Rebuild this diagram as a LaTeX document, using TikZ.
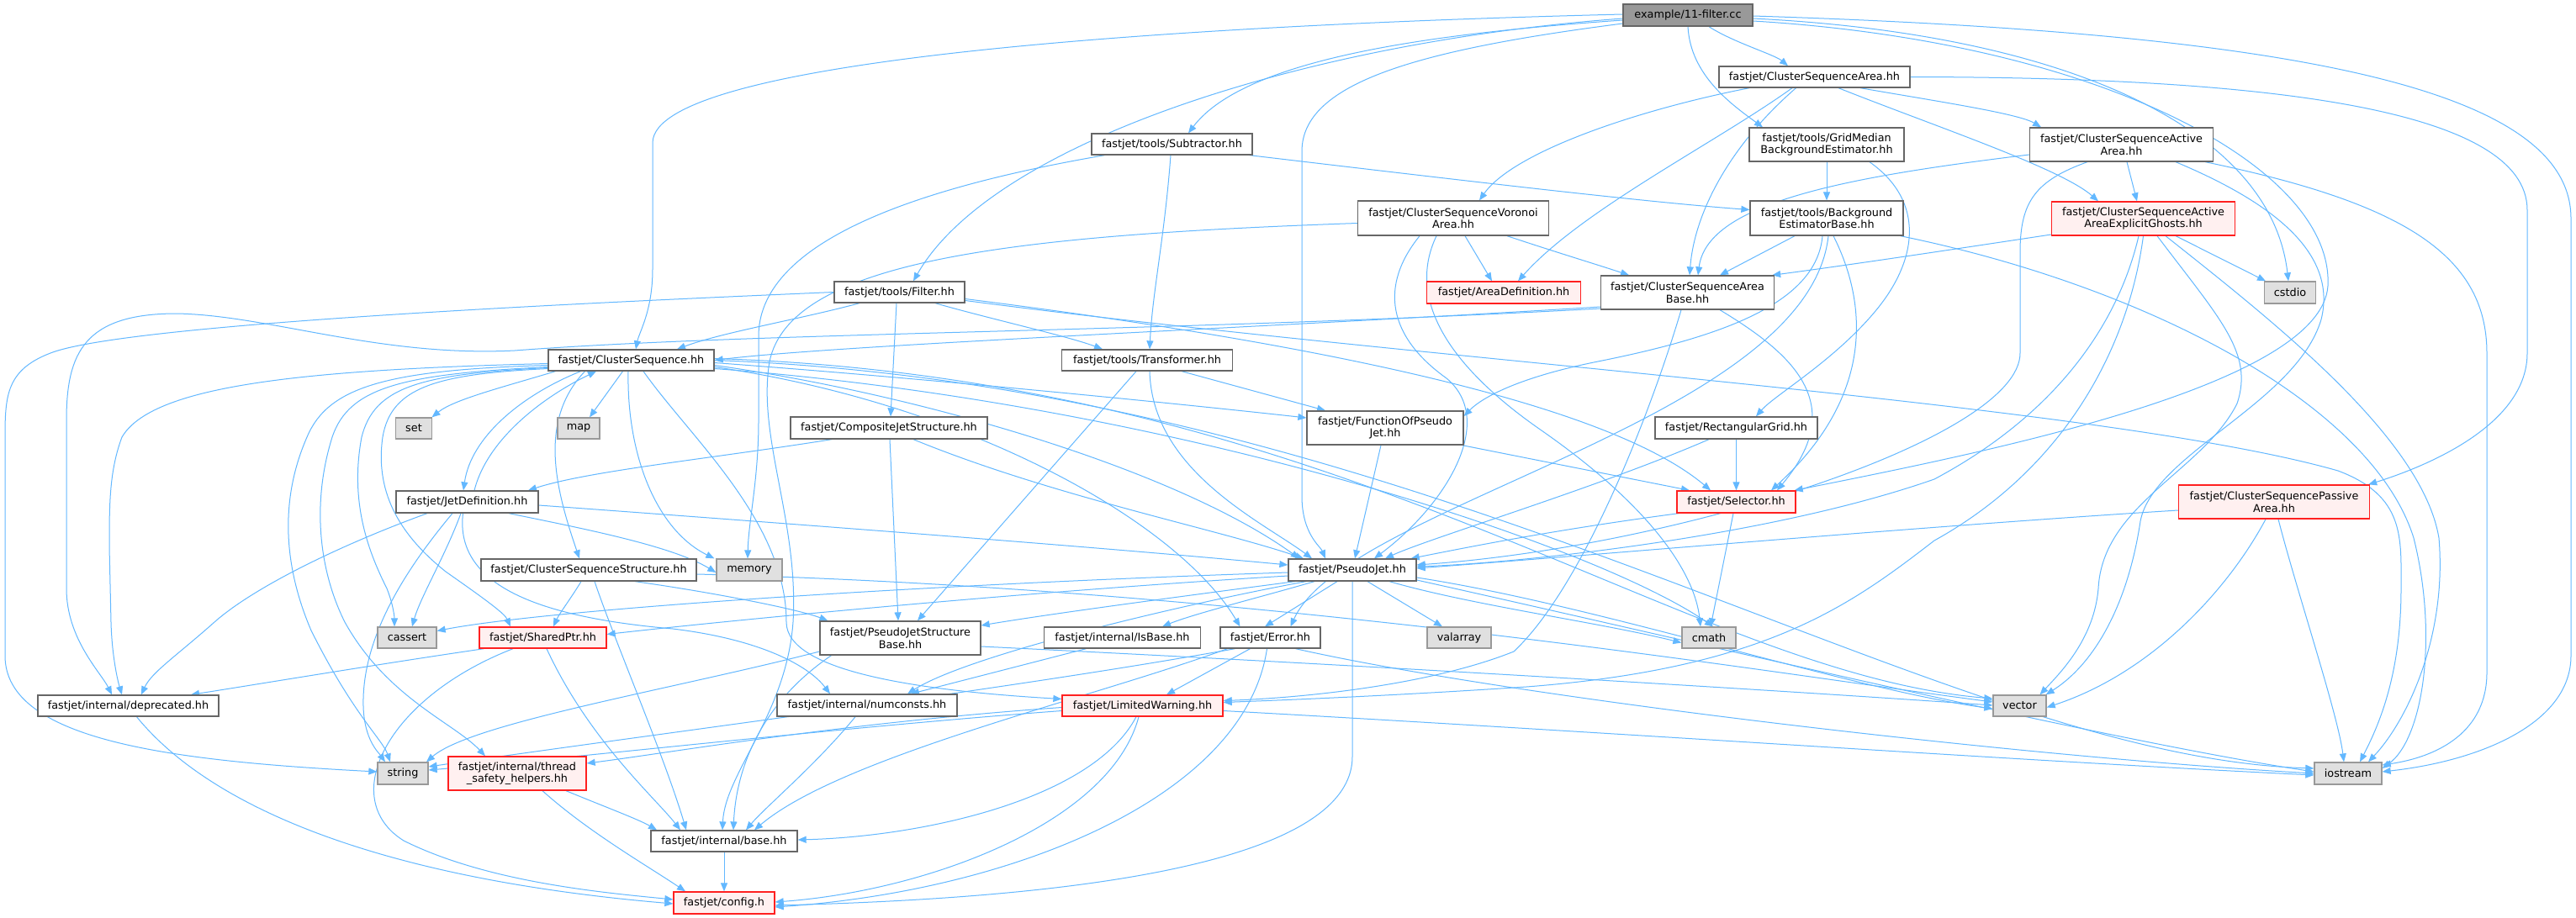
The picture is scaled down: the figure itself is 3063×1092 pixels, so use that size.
\documentclass[tikz,border=0pt]{standalone}
\usepackage{fontspec}
\setmainfont{DejaVu Sans}
\usetikzlibrary{arrows.meta}
\pgfdeclarelayer{bg}
\pgfdeclarelayer{edges}
\pgfsetlayers{bg,edges,main}
\definecolor{edgec}{HTML}{63B8FF}
\definecolor{grayfill}{HTML}{E0E0E0}
\definecolor{grayborder}{HTML}{999999}
\definecolor{nborder}{HTML}{666666}
\definecolor{redfill}{HTML}{FFF0F0}
\definecolor{redborder}{HTML}{FF2020}
\definecolor{mainfill}{HTML}{999999}
\newcommand\dxfont{\fontsize{12.8pt}{14.5pt}\selectfont}
\begin{document}
\begin{tikzpicture}[x=1pt,y=-1pt,
  nb/.style={draw=nborder,fill=white,line width=1.3pt,inner sep=0pt,align=center,font=\dxfont,text=black},
  nred/.style={nb,draw=redborder,fill=redfill},
  ngray/.style={nb,draw=grayborder,fill=grayfill},
  nmain/.style={nb,draw=nborder,fill=mainfill},
  e/.style={draw=edgec,line width=1pt,-{Triangle[length=10pt,width=8pt]}}]
\begin{pgfonlayer}{bg}
\fill[white] (0,0) rectangle (3063,1092);
\end{pgfonlayer}
\useasboundingbox (0,0) rectangle (3063,1092);
% nodes
\node[nmain,minimum width=154pt,minimum height=26pt] (f) at (2007,18) {example/11-filter.cc};
\node[nb,minimum width=227pt,minimum height=25pt] (csa) at (2157.5,91.5) {fastjet/ClusterSequenceArea.hh};
\node[nb,minimum width=184pt,minimum height=40pt] (gm) at (2172,172) {fastjet/tools/GridMedian\\BackgroundEstimator.hh};
\node[nb,minimum width=191pt,minimum height=25pt] (sub) at (1393.5,171.5) {fastjet/tools/Subtractor.hh};
\node[nb,minimum width=218pt,minimum height=40pt] (caa) at (2522.5,172) {fastjet/ClusterSequenceActive\\Area.hh};
\node[nb,minimum width=155pt,minimum height=25pt] (flt) at (1069.5,347.5) {fastjet/tools/Filter.hh};
\node[nb,minimum width=227pt,minimum height=41pt] (cav) at (1728,259.5) {fastjet/ClusterSequenceVoronoi\\Area.hh};
\node[nb,minimum width=182pt,minimum height=41pt] (bge) at (2172,259.5) {fastjet/tools/Background\\EstimatorBase.hh};
\node[nred,minimum width=218pt,minimum height=40pt] (cae) at (2548.5,260) {fastjet/ClusterSequenceActive\\AreaExplicitGhosts.hh};
\node[nred,minimum width=183pt,minimum height=26pt] (ad) at (1788,348) {fastjet/AreaDefinition.hh};
\node[nb,minimum width=206pt,minimum height=40pt] (cab) at (2006.5,348) {fastjet/ClusterSequenceArea\\Base.hh};
\node[ngray,minimum width=61pt,minimum height=26pt] (cstdio) at (2723,348) {cstdio};
\node[nb,minimum width=197pt,minimum height=25pt] (cs) at (750.5,428.5) {fastjet/ClusterSequence.hh};
\node[nb,minimum width=203pt,minimum height=25pt] (tr) at (1364,428.5) {fastjet/tools/Transformer.hh};
\node[ngray,minimum width=43pt,minimum height=25pt] (set) at (492,509.5) {set};
\node[ngray,minimum width=50pt,minimum height=25pt] (map) at (688,509.5) {map};
\node[nb,minimum width=234pt,minimum height=26pt] (cjs) at (1057,509) {fastjet/CompositeJetStructure.hh};
\node[nb,minimum width=186pt,minimum height=40pt] (fpj) at (1647,509) {fastjet/FunctionOfPseudo\\Jet.hh};
\node[nb,minimum width=193pt,minimum height=26pt] (rg) at (2064.5,509) {fastjet/RectangularGrid.hh};
\node[nb,minimum width=169pt,minimum height=26pt] (jd) at (555.5,597) {fastjet/JetDefinition.hh};
\node[nred,minimum width=141pt,minimum height=26pt] (sel) at (2064.5,597) {fastjet/Selector.hh};
\node[nred,minimum width=227pt,minimum height=40pt] (cpa) at (2704,597) {fastjet/ClusterSequencePassive\\Area.hh};
\node[nb,minimum width=256pt,minimum height=26pt] (css) at (700,678) {fastjet/ClusterSequenceStructure.hh};
\node[ngray,minimum width=78pt,minimum height=26pt] (memory) at (891,678) {memory};
\node[nb,minimum width=152pt,minimum height=26pt] (pj) at (1608,678) {fastjet/PseudoJet.hh};
\node[ngray,minimum width=70pt,minimum height=25pt] (cassert) at (484,758.5) {cassert};
\node[nred,minimum width=151pt,minimum height=25pt] (sp) at (645.5,758.5) {fastjet/SharedPtr.hh};
\node[nb,minimum width=191pt,minimum height=40pt] (pjsb) at (1070.5,759) {fastjet/PseudoJetStructure\\Base.hh};
\node[nb,minimum width=186pt,minimum height=25pt] (isb) at (1334.5,758.5) {fastjet/internal/IsBase.hh};
\node[nb,minimum width=119pt,minimum height=25pt] (err) at (1510.5,758.5) {fastjet/Error.hh};
\node[ngray,minimum width=76pt,minimum height=25pt] (valarray) at (1735,758.5) {valarray};
\node[ngray,minimum width=64pt,minimum height=25pt] (cmath) at (2032,758.5) {cmath};
\node[nb,minimum width=215pt,minimum height=25pt] (dep) at (152.5,839.5) {fastjet/internal/deprecated.hh};
\node[nb,minimum width=214pt,minimum height=26pt] (nc) at (1031,839) {fastjet/internal/numconsts.hh};
\node[nred,minimum width=191pt,minimum height=25pt] (lw) at (1358.5,839.5) {fastjet/LimitedWarning.hh};
\node[ngray,minimum width=63pt,minimum height=25pt] (vector) at (2401.5,839.5) {vector};
\node[ngray,minimum width=60pt,minimum height=26pt] (string) at (479,920) {string};
\node[nred,minimum width=164pt,minimum height=40pt] (tsh) at (615,920) {fastjet/internal/thread\\\_safety\_helpers.hh};
\node[ngray,minimum width=80pt,minimum height=26pt] (iostream) at (2792,920) {iostream};
\node[nb,minimum width=174pt,minimum height=25pt] (base) at (861,1000.5) {fastjet/internal/base.hh};
\node[nred,minimum width=120pt,minimum height=26pt] (config) at (861,1074) {fastjet/config.h};
% edges
\begin{pgfonlayer}{edges}
% 11-filter.cc
\draw[e] ([xshift=25pt]f.south) .. controls (2060,50) and (2110,65) .. ([xshift=-31.5pt]csa.north);
\draw[e] (f.south) .. controls (2010,90) and (2060,125) .. ([xshift=-76pt]gm.north);
\draw[e] ([yshift=-6pt]f.west) .. controls (1700,40) and (1480,70) .. ([xshift=19.5pt]sub.north);
\draw[e] ([yshift=-4pt]f.west) .. controls (1550,50) and (1180,170) .. ([xshift=16.5pt]flt.north);
\draw[e] ([yshift=1pt]f.west) .. controls (1400,30) and (776,70) .. (776,170) -- (776,320) .. controls (776,370) and (760,395) .. ([xshift=5.5pt]cs.north);
\draw[e] ([yshift=-10pt]f.west) .. controls (1680,60) and (1548,100) .. (1548,180) -- (1548,590) .. controls (1548,635) and (1570,650) .. ([xshift=-32pt]pj.north);
\draw[e] ([yshift=-7pt]f.east) .. controls (2500,50) and (2775,200) .. (2768,340) .. controls (2760,460) and (2350,540) .. ([xshift=-2pt]sel.north east);
\draw[e] ([yshift=-4pt]f.east) .. controls (2450,40) and (2700,150) .. ([xshift=-2pt]cstdio.north);
\draw[e] ([yshift=-1pt]f.east) .. controls (2750,40) and (3057,110) .. (3057,260) -- (3057,780) .. controls (3057,860) and (2950,905) .. ([yshift=2pt]iostream.east);
% ClusterSequenceArea
\draw[e] ([xshift=-77.5pt]csa.south) .. controls (1950,130) and (1800,180) .. ([xshift=31pt]cav.north);
\draw[e] ([xshift=-26.5pt]csa.south) .. controls (2040,170) and (1880,250) .. ([xshift=17pt]ad.north);
\draw[e] ([xshift=-22pt]csa.south) .. controls (2060,170) and (2015,250) .. ([xshift=2.5pt]cab.north);
\draw[e] ([xshift=54.5pt]csa.south) .. controls (2300,120) and (2400,135) .. ([xshift=-95.5pt]caa.north);
\draw[e] ([xshift=28.5pt]csa.south) .. controls (2300,150) and (2450,200) .. ([xshift=-53.5pt]cae.north);
\draw[e] (csa.east) .. controls (2700,92) and (3005,130) .. (3005,250) -- (3005,420) .. controls (3005,500) and (2900,550) .. ([xshift=-2pt]cpa.north east);
% GridMedian
\draw[e] (gm.south) -- (bge.north);
\draw[e] ([xshift=51pt]gm.south) .. controls (2290,240) and (2280,310) .. (2230,370) .. controls (2180,430) and (2110,470) .. ([xshift=23.5pt]rg.north);
% Subtractor
\draw[e] ([xshift=-1.5pt]sub.south) .. controls (1385,280) and (1370,350) .. ([xshift=3pt]tr.north);
\draw[e] ([xshift=-4pt]sub.south east) .. controls (1700,210) and (1950,240) .. ([yshift=10pt]bge.west);
\draw[e] ([xshift=-80pt]sub.south) .. controls (1050,230) and (902,300) .. (902,400) -- (902,500) .. controls (902,570) and (890,620) .. ([xshift=-2pt]memory.north);
% Filter
\draw[e] (flt.west) .. controls (700,360) and (150,385) .. (60,420) .. controls (8,440) and (6,470) .. (6,520) -- (6,780) .. controls (6,880) and (200,905) .. ([yshift=2pt]string.west);
\draw[e] ([xshift=-47.5pt]flt.south) .. controls (950,380) and (860,395) .. ([xshift=54.5pt]cs.north);
\draw[e] ([xshift=-3.5pt]flt.south) -- ([xshift=2pt]cjs.north);
\draw[e] ([xshift=42.5pt]flt.south) .. controls (1180,380) and (1270,400) .. ([xshift=-53pt]tr.north);
\draw[e] ([yshift=-8pt]flt.east) .. controls (1500,400) and (1900,470) .. ([xshift=-30.5pt]sel.north);
\draw[e] ([yshift=-10pt]flt.east) .. controls (1700,430) and (2500,480) .. (2780,560) .. controls (2860,590) and (2855,640) .. (2855,700) .. controls (2855,800) and (2830,860) .. ([xshift=14pt]iostream.north);
% ClusterSequenceActiveArea
\draw[e] ([yshift=-12pt]caa.west) .. controls (2200,210) and (2030,240) .. ([xshift=12.5pt]cab.north);
\draw[e] ([xshift=-40.5pt]caa.south) .. controls (2420,215) and (2402,240) .. (2402,300) -- (2402,420) .. controls (2402,520) and (2000,650) .. ([yshift=6pt]pj.east);
\draw[e] ([xshift=6.5pt]caa.south) -- ([xshift=-7.5pt]cae.north);
\draw[e] ([xshift=64.5pt]caa.south) .. controls (2700,240) and (2780,300) .. (2760,380) .. controls (2730,480) and (2560,540) .. (2545,620) .. controls (2530,720) and (2490,790) .. ([xshift=-1pt]vector.north east);
\draw[e] ([xshift=-10pt]caa.south east) .. controls (2850,240) and (2957,300) .. (2957,420) -- (2957,800) .. controls (2957,870) and (2900,900) .. ([yshift=10pt]iostream.east);
% ExplicitGhosts
\draw[e] ([yshift=-19pt]cae.west) .. controls (2300,300) and (2200,315) .. ([xshift=-3pt]cab.north east);
\draw[e] ([xshift=38.5pt]cae.south) -- ([xshift=-29pt]cstdio.north);
\draw[e] ([xshift=-5.5pt]cae.south) .. controls (2520,380) and (2450,490) .. (2300,570) .. controls (2100,640) and (1800,670) .. ([yshift=4pt]pj.east);
\draw[e] (cae.south) .. controls (2530,420) and (2450,560) .. (2300,643) .. controls (2200,720) and (2100,795) .. (1815,817) .. controls (1650,828) and (1520,833) .. ([yshift=4pt]lw.east);
\draw[e] ([xshift=16.5pt]cae.south) .. controls (2640,380) and (2680,420) .. (2660,480) .. controls (2620,560) and (2500,600) .. (2495,700) .. controls (2490,760) and (2450,800) .. ([xshift=24pt]vector.north);
\draw[e] ([xshift=26.5pt]cae.south) .. controls (2700,380) and (2880,520) .. (2900,640) .. controls (2910,760) and (2860,860) .. ([xshift=24pt]iostream.north);
% ClusterSequenceAreaBase
\draw[e] ([yshift=-17pt]cab.west) .. controls (1500,390) and (1000,410) .. (cs.east);
\draw[e] ([yshift=-19pt]cab.west) .. controls (1400,395) and (900,395) .. (612,417) .. controls (450,425) and (320,375) .. (210,373) .. controls (100,373) and (79,420) .. (79,500) -- (79,700) .. controls (79,760) and (120,800) .. ([xshift=-19.5pt]dep.north);
\draw[e] ([xshift=-7.5pt]cab.south) .. controls (1960,500) and (1880,700) .. (1800,775) .. controls (1700,815) and (1550,830) .. ([yshift=6pt]lw.east);
\draw[e] ([xshift=38.5pt]cab.south) .. controls (2130,420) and (2200,480) .. ([xshift=48.5pt]sel.north);
% BackgroundEstimatorBase
\draw[e] ([xshift=-38pt]bge.south) -- ([xshift=38.5pt]cab.north);
\draw[e] ([xshift=-5pt]bge.south) .. controls (2160,360) and (2050,400) .. (1900,430) .. controls (1800,450) and (1760,475) .. ([yshift=14pt]fpj.east);
\draw[e] ([xshift=8pt]bge.south) .. controls (2220,360) and (2230,470) .. ([xshift=41.5pt]sel.north);
\draw[e] ([xshift=2pt]bge.south) .. controls (2150,500) and (1600,600) .. ([xshift=24pt]err.north);
\draw[e] ([xshift=-4pt]bge.south east) .. controls (2550,340) and (2820,480) .. (2870,640) .. controls (2900,760) and (2880,880) .. ([yshift=6pt]iostream.east);
% Voronoi
\draw[e] ([xshift=-40pt]cav.south) .. controls (1640,340) and (1650,400) .. (1720,450) .. controls (1780,500) and (1720,600) .. ([xshift=26pt]pj.north);
\draw[e] ([xshift=14pt]cav.south) -- ([xshift=-14pt]ad.north);
\draw[e] ([xshift=64pt]cav.south) .. controls (1850,300) and (1900,315) .. ([xshift=-69.5pt]cab.north);
\draw[e] ([yshift=-6pt]cav.west) .. controls (1200,280) and (940,310) .. (915,430) .. controls (900,520) and (950,620) .. (943,740) .. controls (935,850) and (862,920) .. ([xshift=-2pt]base.north);
\draw[e] ([xshift=-20pt]cav.south) .. controls (1670,360) and (1730,440) .. (1830,510) .. controls (1960,600) and (2015,680) .. ([xshift=-10pt]cmath.north);
% ClusterSequence
\draw[e] ([xshift=-90pt]cs.south) .. controls (600,460) and (540,475) .. ([xshift=21.5pt]set.north);
\draw[e] ([xshift=-10pt]cs.south) -- ([xshift=13pt]map.north);
\draw[e] ([xshift=-60pt]cs.south) .. controls (620,470) and (560,520) .. ([xshift=-4.5pt]jd.north);
\draw[e] ([xshift=8.5pt]jd.north) .. controls (580,520) and (650,470) .. ([xshift=-41.5pt]cs.south);
\draw[e] ([xshift=-55pt]cs.south) .. controls (640,500) and (660,580) .. ([xshift=-11pt]css.north);
\draw[e] ([xshift=-3.5pt]cs.south) .. controls (745,540) and (780,630) .. ([xshift=-2pt]memory.north west);
\draw[e] ([yshift=-3pt]cs.east) .. controls (1100,450) and (1400,480) .. ([yshift=12pt]fpj.west);
\draw[e] ([yshift=-6pt]cs.east) .. controls (1100,470) and (1400,560) .. ([xshift=-63pt]pj.north);
\draw[e] ([yshift=-8pt]cs.east) .. controls (1150,480) and (1400,620) .. ([xshift=-36pt]err.north);
\draw[e] ([xshift=14.5pt]cs.south) .. controls (820,520) and (935,620) .. (935,740) .. controls (935,800) and (1100,822) .. ([yshift=8pt]lw.west);
\draw[e] ([yshift=-10pt]cs.west) .. controls (520,445) and (465,460) .. (455,520) .. controls (445,590) and (480,640) .. (530,680) .. controls (580,715) and (600,730) .. ([xshift=-38.5pt]sp.north);
\draw[e] ([yshift=-8pt]cs.west) .. controls (480,445) and (415,460) .. (395,520) .. controls (370,600) and (380,680) .. (410,740) .. controls (460,830) and (540,860) .. ([xshift=-38pt]tsh.north);
\draw[e] ([yshift=-6pt]cs.west) .. controls (460,440) and (390,460) .. (365,520) .. controls (330,600) and (340,680) .. (370,750) .. controls (420,850) and (455,880) .. ([xshift=-15pt]string.north);
\draw[e] ([yshift=-9pt]cs.west) .. controls (500,445) and (445,460) .. (430,520) .. controls (415,600) and (440,660) .. (460,700) .. controls (468,720) and (469,735) .. ([xshift=-15pt]cassert.north);
\draw[e] ([yshift=-4pt]cs.west) .. controls (350,440) and (180,460) .. (145,520) .. controls (130,560) and (130,600) .. (130,650) -- (132,740) .. controls (133,780) and (140,810) .. ([xshift=-7.5pt]dep.north);
\draw[e] ([yshift=2pt]cs.east) .. controls (1600,450) and (2000,800) .. ([yshift=8.5pt]vector.west);
\draw[e] (cs.east) .. controls (1700,460) and (2300,900) .. ([yshift=6pt]iostream.west);
\draw[e] ([yshift=-10pt]cs.east) .. controls (1400,480) and (1900,650) .. ([xshift=5pt]cmath.north);
% Transformer
\draw[e] ([xshift=-13pt]tr.south) -- ([xshift=20.5pt]pjsb.north);
\draw[e] ([xshift=3pt]tr.south) .. controls (1370,560) and (1500,620) .. ([xshift=-48pt]pj.north);
\draw[e] ([xshift=41pt]tr.south) -- ([xshift=-71pt]fpj.north);
% CompositeJetStructure
\draw[e] ([xshift=-68pt]cjs.south) .. controls (850,545) and (700,560) .. ([xshift=72.5pt]jd.north);
\draw[e] ([xshift=29pt]cjs.south) .. controls (1250,590) and (1450,630) .. ([xshift=-58pt]pj.north);
\draw[e] ([xshift=1pt]cjs.south) -- ([xshift=-2.5pt]pjsb.north);
% FunctionOfPseudoJet
\draw[e] ([xshift=-5pt]fpj.south) -- ([xshift=3pt]pj.north);
\draw[e] ([xshift=-2pt]fpj.south east) -- ([xshift=-55.5pt]sel.north);
% RectangularGrid
\draw[e] ([xshift=-32.5pt]rg.south) .. controls (1900,580) and (1700,640) .. ([xshift=39pt]pj.north);
\draw[e] (rg.south) -- (sel.north);
% Selector
\draw[e] ([xshift=-68.5pt]sel.south) .. controls (1850,630) and (1750,650) .. ([xshift=-7pt]pj.north east);
\draw[e] ([xshift=-3.5pt]sel.south) -- ([xshift=2pt]cmath.north);
% PassiveArea
\draw[e] ([yshift=-10pt]cpa.west) .. controls (2300,625) and (1900,660) .. ([yshift=2pt]pj.east);
\draw[e] ([xshift=-10pt]cpa.south) .. controls (2650,700) and (2560,800) .. ([yshift=-2pt]vector.east);
\draw[e] ([xshift=5pt]cpa.south) .. controls (2730,700) and (2780,850) .. ([xshift=-5pt]iostream.north);
% JetDefinition
\draw[e] ([yshift=-4pt]jd.east) .. controls (900,620) and (1300,650) .. ([yshift=6pt]pj.west);
\draw[e] ([xshift=49.5pt]jd.south) .. controls (700,630) and (800,650) .. ([yshift=-3pt]memory.west);
\draw[e] ([xshift=-47.5pt]jd.south) .. controls (400,650) and (300,700) .. (255,740) .. controls (210,780) and (180,800) .. ([xshift=15.5pt]dep.north);
\draw[e] ([xshift=-17.5pt]jd.south) .. controls (480,680) and (430,760) .. (432,840) .. controls (433,880) and (450,895) .. ([xshift=-21pt]string.north);
\draw[e] ([xshift=-7.5pt]jd.south) .. controls (530,660) and (500,710) .. ([xshift=6pt]cassert.north);
\draw[e] ([xshift=-5pt]jd.south) .. controls (540,700) and (650,735) .. (800,748) .. controls (900,760) and (960,790) .. ([xshift=-44pt]nc.north);
% ClusterSequenceStructure
\draw[e] ([xshift=-9pt]css.south) .. controls (680,710) and (665,730) .. ([xshift=12.5pt]sp.north);
\draw[e] ([xshift=55pt]css.south) .. controls (850,705) and (950,725) .. ([xshift=10pt]pjsb.north west);
\draw[e] ([xshift=7pt]css.south) .. controls (730,760) and (790,900) .. ([xshift=-45pt]base.north);
\draw[e] ([yshift=-5pt]css.east) .. controls (1500,700) and (2100,800) .. ([yshift=4.5pt]vector.west);
% PseudoJet
\draw[e] ([yshift=-3pt]pj.west) .. controls (1100,695) and (650,725) .. ([yshift=8pt]cassert.east);
\draw[e] ([yshift=-7pt]pj.west) .. controls (1200,705) and (850,740) .. ([yshift=4pt]sp.east);
\draw[e] ([xshift=-68pt]pj.south) .. controls (1400,710) and (1250,730) .. ([yshift=15pt]pjsb.east);
\draw[e] ([xshift=-55pt]pj.south) .. controls (1400,720) and (1150,780) .. ([xshift=48pt]nc.north);
\draw[e] ([xshift=-45pt]pj.south) .. controls (1500,710) and (1420,730) .. ([xshift=47.5pt]isb.north);
\draw[e] ([xshift=-18pt]pj.south) -- ([xshift=-6.5pt]err.north);
\draw[e] ([xshift=18pt]pj.south) -- ([xshift=-20pt]valarray.north);
\draw[e] ([xshift=44pt]pj.south) .. controls (1750,720) and (1900,740) .. ([yshift=-6pt]cmath.west);
\draw[e] ([yshift=-9pt]pj.east) .. controls (1900,720) and (2200,820) .. ([yshift=-3.5pt]vector.west);
\draw[e] ([yshift=-12pt]pj.east) .. controls (2000,760) and (2500,880) .. ([yshift=2pt]iostream.west);
\draw[e] (pj.south) -- (1608,900) .. controls (1608,1000) and (1400,1065) .. ([yshift=-3pt]config.east);
% SharedPtr
\draw[e] ([xshift=-70pt]sp.south) .. controls (450,790) and (300,815) .. ([xshift=74.5pt]dep.north);
\draw[e] ([xshift=4.5pt]sp.south) .. controls (700,880) and (780,950) .. ([xshift=-52pt]base.north);
\draw[e] ([xshift=-35.5pt]sp.south) .. controls (460,830) and (400,950) .. (480,1000) .. controls (580,1050) and (720,1062) .. ([yshift=4pt]config.west);
% PseudoJetStructureBase
\draw[e] ([xshift=-82pt]pjsb.south) .. controls (900,840) and (875,920) .. ([xshift=11pt]base.north);
\draw[e] ([yshift=-16pt]pjsb.west) .. controls (800,820) and (560,860) .. ([xshift=28pt]string.north);
\draw[e] ([yshift=-10pt]pjsb.east) .. controls (1600,790) and (2100,820) .. ([yshift=0.5pt]vector.west);
% IsBase, numconsts
\draw[e] ([xshift=-43pt]isb.south) -- ([xshift=52pt]nc.north);
\draw[e] ([xshift=-14pt]nc.south) .. controls (970,910) and (910,960) .. ([xshift=26pt]base.north);
% Error
\draw[e] ([xshift=-24pt]err.south) -- ([xshift=28.5pt]lw.north);
\draw[e] ([xshift=-51pt]err.south) .. controls (1300,830) and (1000,900) .. ([xshift=36pt]base.north);
\draw[e] ([xshift=-4pt]err.south) .. controls (1480,950) and (1200,1060) .. ([yshift=-5pt]config.east);
\draw[e] ([xshift=-42pt]err.south) .. controls (1200,820) and (800,870) .. ([yshift=8pt]string.east);
\draw[e] ([xshift=30pt]err.south) .. controls (1800,830) and (2400,900) .. (iostream.west);
% LimitedWarning
\draw[e] ([xshift=-7.5pt]lw.south) .. controls (1300,950) and (1100,995) .. ([yshift=1.5pt]base.east);
\draw[e] ([xshift=-4.5pt]lw.south) .. controls (1320,980) and (1100,1060) .. ([yshift=1pt]config.east);
\draw[e] ([yshift=-2pt]lw.west) .. controls (1000,860) and (800,895) .. ([yshift=12pt]tsh.east);
\draw[e] ([yshift=-6pt]lw.west) .. controls (1000,865) and (700,900) .. ([yshift=4pt]string.east);
\draw[e] ([yshift=-6pt]lw.east) .. controls (1900,870) and (2400,905) .. ([yshift=-2pt]iostream.west);
% thread safety, deprecated, base
\draw[e] ([xshift=58pt]tsh.south) .. controls (720,960) and (760,975) .. ([xshift=-80pt]base.north);
\draw[e] ([xshift=30pt]tsh.south) .. controls (700,990) and (770,1030) .. ([xshift=-46pt]config.north);
\draw[e] ([xshift=10pt]dep.south) .. controls (250,960) and (450,1045) .. ([yshift=-1pt]config.west);
\draw[e] (base.south) -- (config.north);
\end{pgfonlayer}
\end{tikzpicture}
\end{document}
